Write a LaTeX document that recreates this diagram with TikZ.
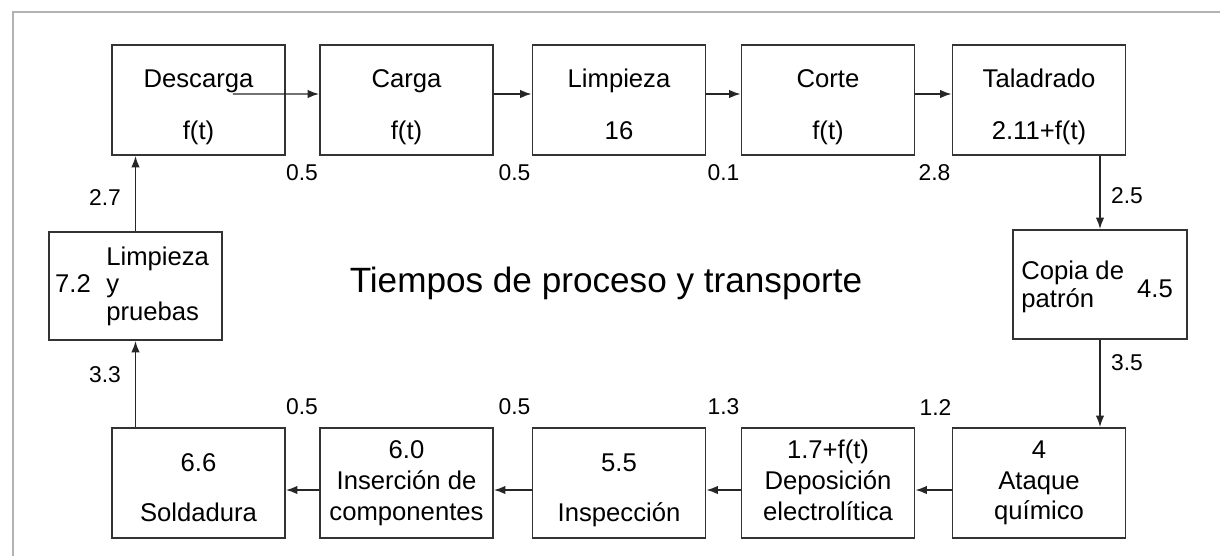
\documentclass[tikz,border=0pt]{standalone}
\usepackage{fontspec}
\setmainfont{Liberation Sans}
\usetikzlibrary{arrows.meta}
\newcommand{\alto}{\rule{0pt}{18pt}}

\begin{document}
\begin{tikzpicture}[x=0.2mm,y=-0.2mm,
    caja/.style={draw=black!80,line width=1.1pt,minimum width=3.46cm,minimum height=2.2cm,
      align=center,inner sep=0pt,font=\fontsize{14.6}{17.5}\selectfont,
      execute at end node=\rule[-3pt]{0pt}{3pt}},
    lado/.style={align=left,inner sep=0pt,font=\fontsize{14.6}{15.6}\selectfont},
    num/.style={inner sep=0pt,font=\fontsize{13}{15}\selectfont},
    flecha/.style={-{Latex[length=2.3mm,width=1.7mm]},line width=0.8pt,black!85}]
    \useasboundingbox (0,0) rectangle (1220,556);

    % Marco
    \draw[black!30,line width=1.5pt] (13,556) -- (13,12) -- (1220,12);

    % Fila de arriba
    \node[caja] (desc) at (198.5,100) {\alto Descarga\\[12pt]f(t)};
    \node[caja] (carg) at (406.5,100) {\alto Carga\\[12pt]f(t)};
    \node[caja] (limp) at (619,100) {\alto Limpieza\\[12pt]16};
    \node[caja] (cort) at (828,100) {\alto Corte\\[12pt]f(t)};
    \node[caja] (tala) at (1039,100) {\alto Taladrado\\[12pt]2.11+f(t)};

    % Lado derecho
    \node[caja,minimum width=3.48cm,minimum height=2.18cm] (copi) at (1100,284.5) {};
    \node[lado,anchor=west] (copitxt) at (1021,287) {Copia de\\patrón};
    \node[num,font=\fontsize{14.6}{17.5}\selectfont] (copinum) at (1155,289) {4.5};

    % Fila de abajo
    \node[caja] (ataq) at (1039,483) {4\\Ataque\\químico};
    \node[caja] (depo) at (828,483) {1.7+f(t)\\Deposición\\electrolítica};
    \node[caja] (insp) at (619,483) {\alto 5.5\\[11pt]Inspección};
    \node[caja] (inse) at (406.5,483) {6.0\\Inserción de\\componentes};
    \node[caja] (sold) at (198.5,483) {\alto 6.6\\[11pt]Soldadura};

    % Lado izquierdo
    \node[caja,minimum height=2.16cm] (lypr) at (135.5,286) {};
    \node[lado,anchor=west] (lyprtxt) at (106,286) {Limpieza\\y\\pruebas};
    \node[num,font=\fontsize{14.6}{17.5}\selectfont] (lyprnum) at (73,284) {7.2};

    % Título
    \node[font=\fontsize{20}{24}\selectfont] (titulo) at (606,283) {Tiempos de proceso y transporte};

    % Flechas
    \draw[flecha] ([shift={(-53,-6)}]desc.east) -- ([yshift=1.2mm]carg.west);
    \draw[flecha] ([yshift=1.2mm]carg.east) -- ([yshift=1.2mm]limp.west);
    \draw[flecha] ([yshift=1.2mm]limp.east) -- ([yshift=1.2mm]cort.west);
    \draw[flecha] ([yshift=1.2mm]cort.east) -- ([yshift=1.2mm]tala.west);
    \draw[flecha] (tala.south -| copi) -- (copi.north);
    \draw[flecha] (copi.south) -- (copi.south |- ataq.north);
    \draw[flecha] ([yshift=-1.4mm]ataq.west) -- ([yshift=-1.4mm]depo.east);
    \draw[flecha] ([yshift=-1.4mm]depo.west) -- ([yshift=-1.4mm]insp.east);
    \draw[flecha] ([yshift=-1.4mm]insp.west) -- ([yshift=-1.4mm]inse.east);
    \draw[flecha] ([yshift=-1.4mm]inse.west) -- ([yshift=-1.4mm]sold.east);
    \draw[flecha] (sold.north -| lypr) -- (lypr.south);
    \draw[flecha] (lypr.north) -- (lypr.north |- desc.south);

    % Tiempos de transporte
    \node[num] at ([shift={(-17,17)}]carg.south west) {0.5};
    \node[num] at ([shift={(-17,17)}]limp.south west) {0.5};
    \node[num] at ([shift={(-17,17)}]cort.south west) {0.1};
    \node[num] at ([shift={(-17,17)}]tala.south west) {2.8};
    \node[num] at (1127,196) {2.5};
    \node[num] at (1127,363) {3.5};
    \node[num] at ([shift={(-16,-20)}]ataq.north west) {1.2};
    \node[num] at ([shift={(-17,-20)}]depo.north west) {1.3};
    \node[num] at ([shift={(-17,-20)}]insp.north west) {0.5};
    \node[num] at ([shift={(-17,-20)}]inse.north west) {0.5};
    \node[num] at (105,375) {3.3};
    \node[num] at (105,198) {2.7};
\end{tikzpicture}
\end{document}
